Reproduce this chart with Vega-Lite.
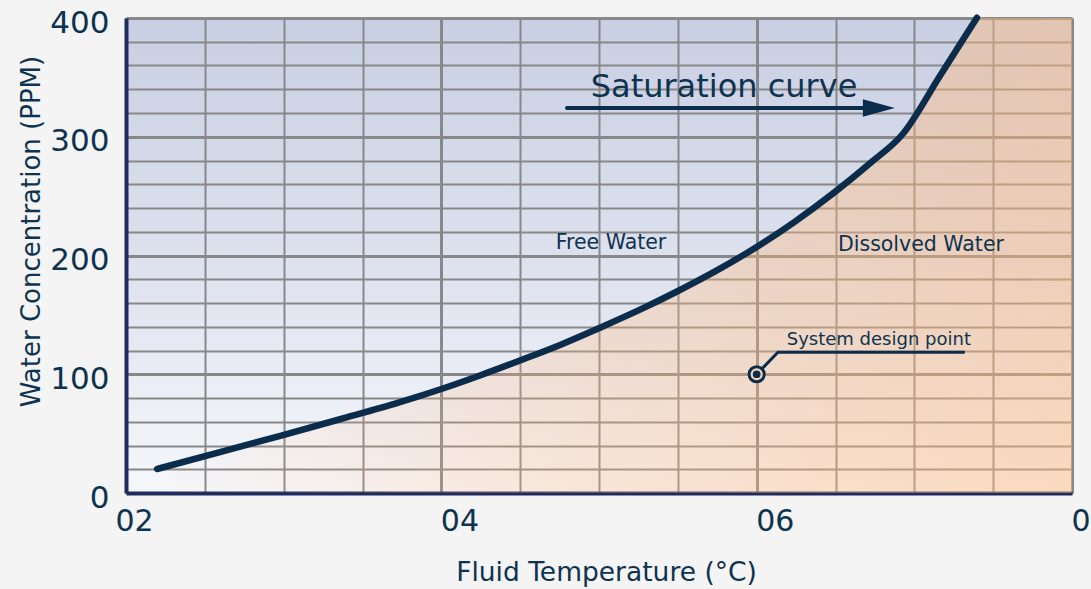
{
  "$schema": "https://vega.github.io/schema/vega-lite/v6.json",
  "width": 946,
  "height": 475,
  "autosize": "none",
  "padding": {"left": 126, "top": 18, "right": 19, "bottom": 96},
  "background": "#f4f4f4",
  "view": {
    "stroke": null,
    "fill": {"gradient": "linear", "x1": 0, "y1": 0, "x2": 0, "y2": 1,
      "stops": [{"offset": 0, "color": "#c8cfe2"}, {"offset": 0.5, "color": "#dde1ee"}, {"offset": 1, "color": "#f6f7fb"}]}
  },
  "datasets": {
    "curve": [
      {"t": 21.97, "ppm": 20.2}, {"t": 25.96, "ppm": 34.5}, {"t": 29.96, "ppm": 48.8}, {"t": 33.57, "ppm": 62.1},
      {"t": 37.38, "ppm": 76.5}, {"t": 40.0, "ppm": 87.6}, {"t": 42.45, "ppm": 99.0}, {"t": 44.99, "ppm": 111.6},
      {"t": 47.53, "ppm": 124.7}, {"t": 50.06, "ppm": 139.2}, {"t": 52.6, "ppm": 154.4}, {"t": 54.95, "ppm": 169.7},
      {"t": 57.36, "ppm": 186.6}, {"t": 59.77, "ppm": 205.3}, {"t": 62.43, "ppm": 228.6}, {"t": 64.97, "ppm": 253.6},
      {"t": 67.19, "ppm": 277.7}, {"t": 69.28, "ppm": 302.5}, {"t": 71.63, "ppm": 351.4}, {"t": 73.97, "ppm": 400.3}
    ],
    "under": [
      {"t": 21.97, "ppm": 20.2}, {"t": 25.96, "ppm": 34.5}, {"t": 29.96, "ppm": 48.8}, {"t": 33.57, "ppm": 62.1},
      {"t": 37.38, "ppm": 76.5}, {"t": 40.0, "ppm": 87.6}, {"t": 42.45, "ppm": 99.0}, {"t": 44.99, "ppm": 111.6},
      {"t": 47.53, "ppm": 124.7}, {"t": 50.06, "ppm": 139.2}, {"t": 52.6, "ppm": 154.4}, {"t": 54.95, "ppm": 169.7},
      {"t": 57.36, "ppm": 186.6}, {"t": 59.77, "ppm": 205.3}, {"t": 62.43, "ppm": 228.6}, {"t": 64.97, "ppm": 253.6},
      {"t": 67.19, "ppm": 277.7}, {"t": 69.28, "ppm": 302.5}, {"t": 71.63, "ppm": 351.4}, {"t": 73.97, "ppm": 400.3},
      {"t": 80, "ppm": 526}
    ],
    "notes": [
      {"t": 57.93, "ppm": 341.9, "label": "Saturation curve", "kind": "big"},
      {"t": 50.76, "ppm": 210.5, "label": "Free Water", "kind": "mid"},
      {"t": 70.42, "ppm": 208.8, "label": "Dissolved Water", "kind": "mid"},
      {"t": 67.75, "ppm": 129.2, "label": "System design  point", "kind": "small"}
    ],
    "leader": [
      {"t": 60, "ppm": 100}, {"t": 61.35, "ppm": 118.5}, {"t": 73.2, "ppm": 118.5}
    ],
    "arrow": [{"t": 47.97, "t2": 66.8, "ppm": 324.2}],
    "arrowhead": [{"t": 67.75, "ppm": 324.2}],
    "design": [{"t": 60, "ppm": 100}]
  },
  "encoding": {
    "x": {"field": "t", "type": "quantitative",
      "scale": {"domain": [20, 80], "nice": false, "zero": false},
      "axis": {
        "title": "Fluid Temperature (°C)",
        "values": [20, 25, 30, 35, 40, 45, 50, 55, 60, 65, 70, 75, 80],
        "labelExpr": "datum.value === 20 ? '02' : datum.value === 40 ? '04' : datum.value === 60 ? '06' : datum.value === 80 ? '0' : ''",
        "grid": true,
        "gridColor": "#888888",
        "gridWidth": {"condition": {"test": "datum.value % 20 === 0", "value": 3}, "value": 2},
        "ticks": false,
        "domainColor": "#1f2b5f",
        "domainWidth": 4,
        "labelFont": "DejaVu Sans",
        "labelFontSize": 30,
        "labelColor": "#0d3350",
        "labelAlign": "left",
        "labelBaseline": "top",
        "labelFlush": false,
        "labelOverlap": false,
        "labelOffset": {"condition": {"test": "datum.value === 20", "value": -11}, "value": -1},
        "labelPadding": 13,
        "titleFont": "DejaVu Sans",
        "titleFontSize": 26.5,
        "titleFontWeight": "normal",
        "titleColor": "#0d3350",
        "titleX": 480,
        "titleY": 79,
        "titleAlign": "center",
        "titleBaseline": "middle"
      }
    },
    "y": {"field": "ppm", "type": "quantitative",
      "scale": {"domain": [0, 400], "nice": false},
      "axis": {
        "title": "Water Concentration (PPM)",
        "values": [0, 20, 40, 60, 80, 100, 120, 140, 160, 180, 200, 220, 240, 260, 280, 300, 320, 340, 360, 380, 400],
        "labelExpr": "datum.value % 100 === 0 ? datum.label : ''",
        "grid": true,
        "gridColor": "#888888",
        "gridWidth": {"condition": {"test": "datum.value % 100 === 0", "value": 3}, "value": 2},
        "ticks": false,
        "domainColor": "#1f2b5f",
        "domainWidth": 4,
        "labelFont": "DejaVu Sans",
        "labelFontSize": 31,
        "labelColor": "#0d3350",
        "labelOverlap": false,
        "labelFlush": false,
        "labelPadding": 17,
        "labelOffset": 5,
        "titleFont": "DejaVu Sans",
        "titleFontSize": 26,
        "titleFontWeight": "normal",
        "titleColor": "#0d3350",
        "titleX": -95,
        "titleY": 213,
        "titleAngle": -90,
        "titleAlign": "center",
        "titleBaseline": "middle"
      }
    }
  },
  "layer": [
    {
      "data": {"name": "under"},
      "mark": {"type": "area", "interpolate": "monotone", "clip": true,
        "fill": {"gradient": "linear", "x1": 0, "y1": 0, "x2": 1, "y2": 0,
          "stops": [
            {"offset": 0, "color": "rgba(255,185,125,0)"},
            {"offset": 0.35, "color": "rgba(255,185,125,0.22)"},
            {"offset": 0.7, "color": "rgba(255,185,125,0.38)"},
            {"offset": 1, "color": "rgba(255,185,125,0.48)"}
          ]}},
      "encoding": {"y2": {"datum": 0}}
    },
    {
      "data": {"name": "curve"},
      "mark": {"type": "line", "interpolate": "monotone", "color": "#0b2d4b", "strokeWidth": 6.5, "strokeCap": "round"}
    },
    {
      "data": {"name": "arrow"},
      "mark": {"type": "rule", "color": "#0b2d4b", "strokeWidth": 4, "strokeCap": "round"},
      "encoding": {"x2": {"field": "t2"}}
    },
    {
      "data": {"name": "arrowhead"},
      "mark": {"type": "point", "shape": "M-1,-0.55L1,0L-1,0.55Z", "size": 1024, "filled": true, "color": "#0b2d4b", "opacity": 1}
    },
    {
      "data": {"name": "leader"},
      "mark": {"type": "line", "color": "#0b2d4b", "strokeWidth": 3}
    },
    {
      "data": {"name": "design"},
      "mark": {"type": "point", "shape": "circle", "size": 230, "fill": "#f2d5c0", "stroke": "#0b2d4b", "strokeWidth": 3, "opacity": 1, "fillOpacity": 1}
    },
    {
      "data": {"name": "design"},
      "mark": {"type": "circle", "size": 60, "color": "#0b2d4b", "opacity": 1}
    },
    {
      "data": {"name": "notes"},
      "transform": [{"filter": "datum.kind === 'big'"}],
      "mark": {"type": "text", "font": "DejaVu Sans", "fontSize": 32, "color": "#0d3350", "align": "center", "baseline": "middle"},
      "encoding": {"text": {"field": "label"}}
    },
    {
      "data": {"name": "notes"},
      "transform": [{"filter": "datum.kind === 'mid'"}],
      "mark": {"type": "text", "font": "DejaVu Sans", "fontSize": 20.5, "color": "#0d3350", "align": "center", "baseline": "middle"},
      "encoding": {"text": {"field": "label"}}
    },
    {
      "data": {"name": "notes"},
      "transform": [{"filter": "datum.kind === 'small'"}],
      "mark": {"type": "text", "font": "DejaVu Sans", "fontSize": 18, "color": "#0d3350", "align": "center", "baseline": "middle"},
      "encoding": {"text": {"field": "label"}}
    }
  ]
}
